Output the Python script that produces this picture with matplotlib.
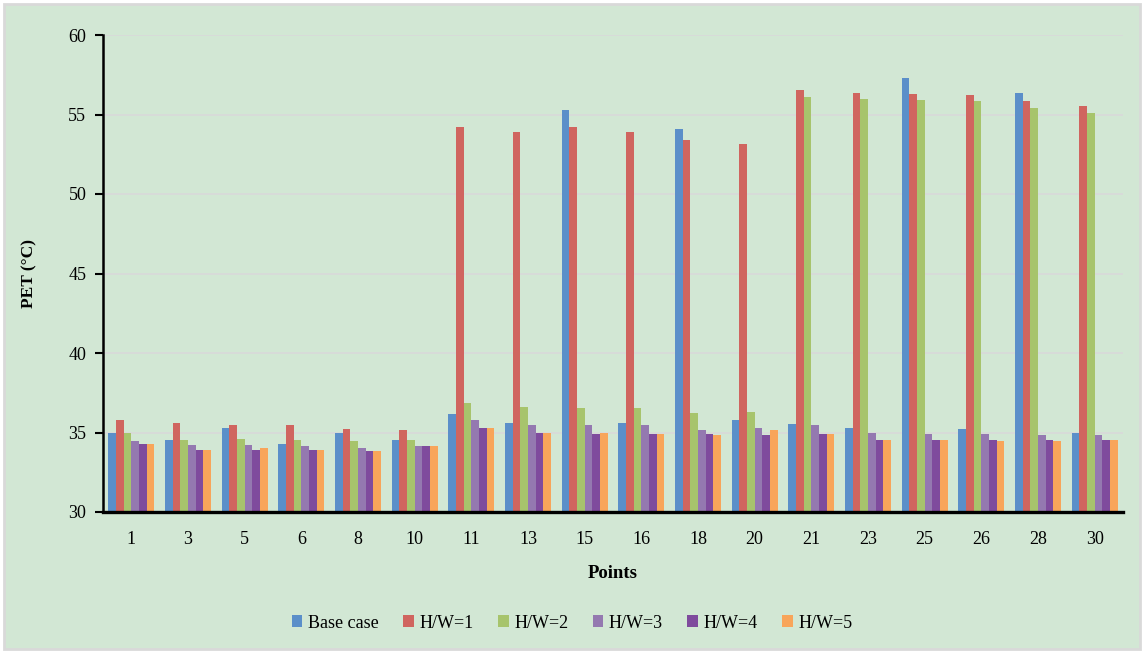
import matplotlib
matplotlib.use("Agg")
import matplotlib.pyplot as plt
import numpy as np
from matplotlib.patches import Rectangle

points = ["1", "3", "5", "6", "8", "10", "11", "13", "15", "16", "18", "20",
          "21", "23", "25", "26", "28", "30"]
series_names = ["Base case", "H/W=1", "H/W=2", "H/W=3", "H/W=4", "H/W=5"]

base_case = [35.0, 34.53, 35.3, 34.3, 35.0, 34.53, 36.14, 35.62, 55.29, 35.62, 54.06, 35.77,
             35.53, 35.3, 57.29, 35.22, 56.36, 34.99]
hw1 = [35.77, 35.6, 35.45, 35.45, 35.2, 35.14, 54.23, 53.92, 54.23, 53.92, 53.38, 53.17,
       56.51, 56.36, 56.3, 56.22, 55.84, 55.52]
hw2 = [35.0, 34.53, 34.6, 34.53, 34.44, 34.53, 36.83, 36.6, 36.52, 36.52, 36.2, 36.29,
       56.07, 55.99, 55.9, 55.82, 55.38, 55.08]
hw3 = [34.44, 34.23, 34.23, 34.15, 34.0, 34.15, 35.77, 35.45, 35.45, 35.45, 35.14, 35.3,
       35.45, 34.99, 34.93, 34.93, 34.84, 34.84]
hw4 = [34.3, 33.92, 33.92, 33.92, 33.84, 34.15, 35.3, 34.99, 34.93, 34.93, 34.93, 34.84,
       34.93, 34.53, 34.53, 34.53, 34.53, 34.53]
hw5 = [34.3, 33.92, 34.0, 33.92, 33.84, 34.15, 35.3, 34.99, 35.0, 34.93, 34.84, 35.14,
       34.93, 34.53, 34.53, 34.47, 34.47, 34.53]

series = [base_case, hw1, hw2, hw3, hw4, hw5]
colors = ["#5B8FC9", "#D0655F", "#A7C46C", "#9479B0", "#7F4B9D", "#F8A55A"]

plt.rcParams["font.family"] = ["Liberation Serif", "DejaVu Serif"]

fig = plt.figure(figsize=(11.44, 6.53), dpi=100, facecolor="white")
bg = "#D2E7D4"
fig.patches.append(Rectangle((4 / 1144, 4 / 653), 1136 / 1144, 645 / 653,
                             transform=fig.transFigure, facecolor=bg,
                             edgecolor="#D9D9D9", linewidth=2, zorder=-10))

ax = fig.add_axes([103 / 1144, 1 - 512 / 653, 1020 / 1144, 477 / 653])
ax.set_zorder(5)
ax.patch.set_alpha(0)

x = np.arange(len(points))
w = 0.135
for i, (name, vals, c) in enumerate(zip(series_names, series, colors)):
    ax.bar(x + (i - 2.5) * w, np.array(vals) - 30, bottom=30, width=w,
           color=c, label=name, zorder=3, edgecolor="none")

ax.set_xlim(-0.5, len(points) - 0.5)
ax.set_ylim(30, 60)
ax.set_yticks(np.arange(30, 61, 5))
ax.set_xticks(x)
ax.set_xticklabels(points)
ax.yaxis.grid(True, color="#D9D9D9", linewidth=1.2, zorder=0)
ax.set_axisbelow(True)
for s in ["top", "right"]:
    ax.spines[s].set_visible(False)
ax.spines["left"].set_linewidth(1.8)
ax.spines["bottom"].set_linewidth(2.4)
ax.spines["left"].set_zorder(6)
ax.spines["bottom"].set_zorder(6)
ax.tick_params(axis="y", length=6, width=1.5, labelsize=13, pad=6)
ax.tick_params(axis="x", length=0, labelsize=13, pad=14)

ax.set_ylabel("PET (°C)", fontsize=12.5, fontweight="bold", labelpad=22)
ax.set_xlabel("Points", fontsize=13.5, fontweight="bold", labelpad=12)

leg = fig.legend(loc="center", bbox_to_anchor=(0.5, 1 - 623 / 653), ncol=6,
                 frameon=False, fontsize=13, handlelength=0.6, handleheight=0.6,
                 handletextpad=0.3, columnspacing=1.35)

fig.savefig("out.png", dpi=100, facecolor="white")
